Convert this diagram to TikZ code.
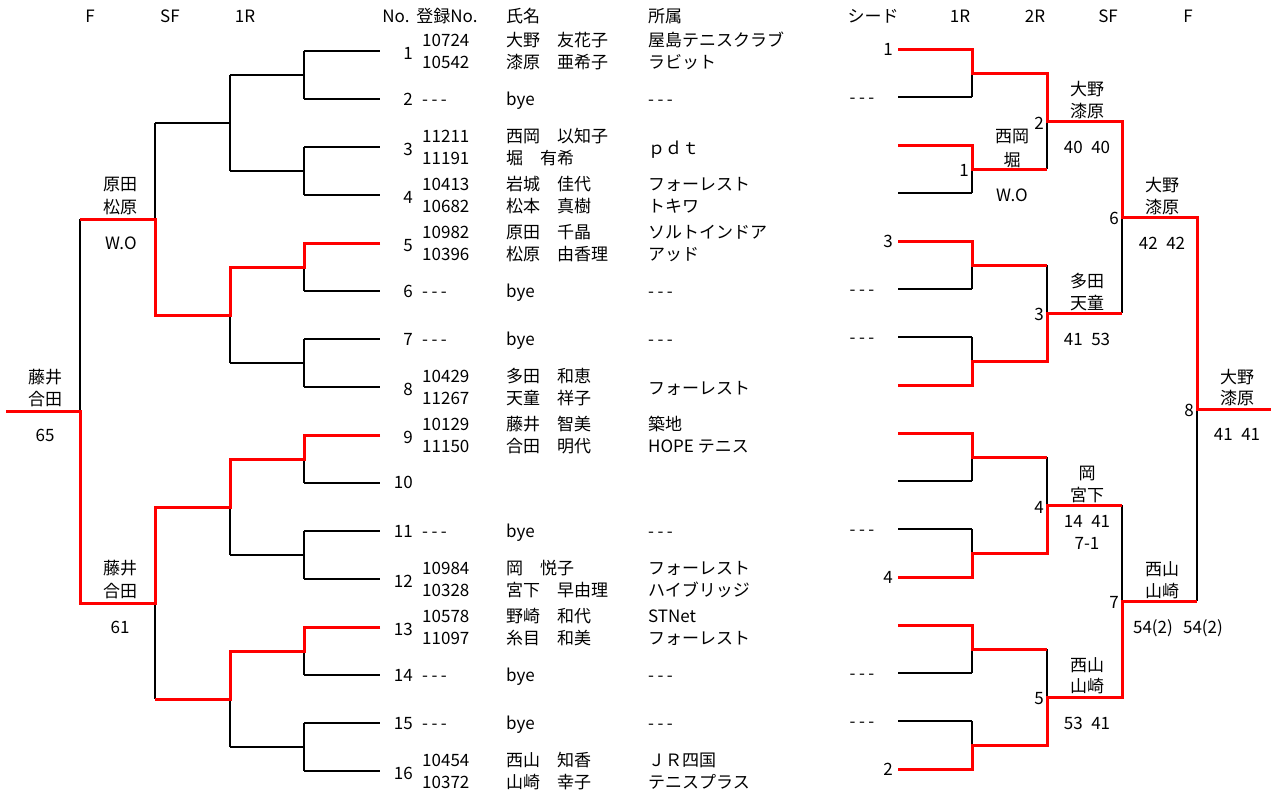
\documentclass[tikz,border=0pt]{standalone}
\usepackage{fontspec}
\setmainfont{Noto Sans CJK JP}
\newcommand\dsh{-\kern3.5pt-\kern3.5pt-}
\newcommand\slotpair[7]{%
  \pgfmathsetmacro\yy{51+48*(#1-1)}%
  \node[txt,anchor=east] (no#1) at (413,\yy+2) {#1};
  \node[txt,anchor=west] (ra#1) at (422,\yy-11) {#2};
  \node[txt,anchor=west] (rb#1) at (422,\yy+11) {#3};
  \node[txt,anchor=west] (na#1) at (506,\yy-11) {#4};
  \node[txt,anchor=west] (nb#1) at (506,\yy+11) {#5};
  \node[txt,anchor=west] (aa#1) at (648,\yy-11) {#6};
  \node[txt,anchor=west] (ab#1) at (648,\yy+11) {#7};
}
\newcommand\slotpairc[6]{%
  \pgfmathsetmacro\yy{51+48*(#1-1)}%
  \node[txt,anchor=east] (no#1) at (413,\yy+2) {#1};
  \node[txt,anchor=west] (ra#1) at (422,\yy-11) {#2};
  \node[txt,anchor=west] (rb#1) at (422,\yy+11) {#3};
  \node[txt,anchor=west] (na#1) at (506,\yy-11) {#4};
  \node[txt,anchor=west] (nb#1) at (506,\yy+11) {#5};
  \node[txt,anchor=west] (aa#1) at (648,\yy+1) {#6};
}
\newcommand\slotbye[1]{%
  \pgfmathsetmacro\yy{51+48*(#1-1)}%
  \node[txt,anchor=east] (no#1) at (413,\yy) {#1};
  \node[txt,anchor=west] (ra#1) at (422,\yy) {\dsh};
  \node[txt,anchor=west] (na#1) at (506,\yy) {bye};
  \node[txt,anchor=west] (aa#1) at (648,\yy) {\dsh};
}
\begin{document}
\begin{tikzpicture}[x=1pt,y=-1pt,
  blk/.style={black,line width=2pt},
  rd/.style={red,line width=3pt,line join=miter},
  txt/.style={inner sep=0pt,font=\fontsize{17}{20}\selectfont,text height=14pt,text depth=2pt}]
\useasboundingbox[fill=white] (0,0) rectangle (1271,798);

% ---------- coordinates ----------
\foreach \i in {1,...,16} {
  \pgfmathsetmacro\y{51+48*(\i-1)}
  \pgfmathsetmacro\yr{\y-2}
  \coordinate (LS\i) at (380,\y);
  \coordinate (LT\i) at (304,\y);
  \coordinate (RS\i) at (898,\yr);
  \coordinate (RT\i) at (972,\yr);
}
\foreach \k in {1,...,8} {
  \pgfmathsetmacro\y{75+96*(\k-1)}
  \pgfmathsetmacro\yr{\y-2}
  \coordinate (LA\k) at (304,\y);
  \coordinate (LB\k) at (230,\y);
  \coordinate (RA\k) at (972,\yr);
  \coordinate (RB\k) at (1047,\yr);
}
\foreach \m in {1,...,4} {
  \pgfmathsetmacro\y{123+192*(\m-1)}
  \pgfmathsetmacro\yr{\y-2}
  \coordinate (LC\m) at (230,\y);
  \coordinate (LD\m) at (155,\y);
  \coordinate (RC\m) at (1047,\yr);
  \coordinate (RD\m) at (1122,\yr);
}
\foreach \n in {1,2} {
  \pgfmathsetmacro\y{219+384*(\n-1)}
  \pgfmathsetmacro\yr{\y-2}
  \coordinate (LE\n) at (155,\y);
  \coordinate (LF\n) at (80,\y);
  \coordinate (RE\n) at (1122,\yr);
  \coordinate (RF\n) at (1197,\yr);
}
\coordinate (LG) at (80,411);
\coordinate (LH) at (6,411);
\coordinate (RG) at (1197,409);
\coordinate (RH) at (1271,409);

% ---------- left bracket, black ----------
\foreach \i in {1,2,3,4,6,7,8,10,11,12,14,15,16} \draw[blk] (LT\i) -- (LS\i);
\draw[blk] (LT1) -- (LT2);
\draw[blk] (LT3) -- (LT4);
\draw[blk] (LA3) -- (LT6);
\draw[blk] (LT7) -- (LT8);
\draw[blk] (LA5) -- (LT10);
\draw[blk] (LT11) -- (LT12);
\draw[blk] (LA7) -- (LT14);
\draw[blk] (LT15) -- (LT16);
\foreach \k in {1,2,4,6,8} \draw[blk] (LA\k) -- (LB\k);
\draw[blk] (LB1) -- (LB2);
\draw[blk] (LC2) -- (LB4);
\draw[blk] (LC3) -- (LB6);
\draw[blk] (LC4) -- (LB8);
\draw[blk] (LC1) -- (LD1);
\draw[blk] (LD1) -- (LE1);
\draw[blk] (LE2) -- (LD4);
\draw[blk] (LF1) -- (LG);

% ---------- left bracket, red ----------
\draw[rd] (LS5) -- (LT5) -- (LA3) -- (LB3) -- (LC2) -- (LD2) -- (LE1) -- (LF1);
\draw[rd] (LS9) -- (LT9) -- (LA5) -- (LB5) -- (LC3) -- (LD3) -- (LE2) -- (LF2) -- (LG) -- (LH);
\draw[rd] (LS13) -- (LT13) -- (LA7) -- (LB7) -- (LC4) -- (LD4);

% ---------- right bracket, black ----------
\foreach \i in {2,4,6,7,10,11,14,15} \draw[blk] (RS\i) -- (RT\i);
\draw[blk] (RA1) -- (RT2);
\draw[blk] (RA2) -- (RT4);
\draw[blk] (RA3) -- (RT6);
\draw[blk] (RT7) -- (RA4);
\draw[blk] (RA5) -- (RT10);
\draw[blk] (RT11) -- (RA6);
\draw[blk] (RA7) -- (RT14);
\draw[blk] (RT15) -- (RA8);
\draw[blk] (RC1) -- (RB2);
\draw[blk] (RB3) -- (RC2);
\draw[blk] (RB5) -- (RC3);
\draw[blk] (RB7) -- (RC4);
\draw[blk] (RE1) -- (RD2);
\draw[blk] (RD3) -- (RE2);
\draw[blk] (RG) -- (RF2);

% ---------- right bracket, red ----------
\draw[rd] (RS1) -- (RT1) -- (RA1) -- (RB1) -- (RC1) -- (RD1) -- (RE1) -- (RF1) -- (RG) -- (RH);
\draw[rd] (RS3) -- (RT3) -- (RA2) -- (RB2);
\draw[rd] (RS5) -- (RT5) -- (RA3) -- (RB3);
\draw[rd] (RS8) -- (RT8) -- (RA4) -- (RB4) -- (RC2) -- (RD2);
\draw[rd] (RS9) -- (RT9) -- (RA5) -- (RB5);
\draw[rd] (RS12) -- (RT12) -- (RA6) -- (RB6) -- (RC3) -- (RD3);
\draw[rd] (RS13) -- (RT13) -- (RA7) -- (RB7);
\draw[rd] (RS16) -- (RT16) -- (RA8) -- (RB8) -- (RC4) -- (RD4) -- (RE2) -- (RF2);

% ---------- headers ----------
\node[txt] (hF) at (90,16) {F};
\node[txt] (hSF) at (170,16) {SF};
\node[txt] (h1R) at (245,16) {1R};
\node[txt] (hNo) at (396,16) {No.};
\node[txt] (hReg) at (447,16) {登録No.};
\node[txt,anchor=west] (hName) at (506,16) {氏名};
\node[txt,anchor=west] (hAff) at (648,16) {所属};
\node[txt] (hSeed) at (873,16) {シード};
\node[txt] (hR1R) at (960,16) {1R};
\node[txt] (hR2R) at (1035,16) {2R};
\node[txt] (hRSF) at (1108,16) {SF};
\node[txt] (hRF) at (1188,16) {F};

% ---------- entries ----------
\slotpair{1}{10724}{10542}{大野　友花子}{漆原　亜希子}{屋島テニスクラブ}{ラビット}
\slotbye{2}
\slotpairc{3}{11211}{11191}{西岡　以知子}{堀　有希}{ｐｄｔ}
\slotpair{4}{10413}{10682}{岩城　佳代}{松本　真樹}{フォーレスト}{トキワ}
\slotpair{5}{10982}{10396}{原田　千晶}{松原　由香理}{ソルトインドア}{アッド}
\slotbye{6}
\slotbye{7}
\slotpairc{8}{10429}{11267}{多田　和恵}{天童　祥子}{フォーレスト}
\slotpair{9}{10129}{11150}{藤井　智美}{合田　明代}{築地}{HOPE テニス}
\node[txt,anchor=east] (no10) at (413,482) {10};
\slotbye{11}
\slotpair{12}{10984}{10328}{岡　悦子}{宮下　早由理}{フォーレスト}{ハイブリッジ}
\slotpair{13}{10578}{11097}{野崎　和代}{糸目　和美}{STNet}{フォーレスト}
\slotbye{14}
\slotbye{15}
\slotpair{16}{10454}{10372}{西山　知香}{山崎　幸子}{ＪＲ四国}{テニスプラス}

% ---------- left results ----------
\node[txt] (lsf1a) at (120,184) {原田};
\node[txt] (lsf1b) at (120,207) {松原};
\node[txt] (lsf1s) at (121,243) {W.O};
\node[txt] (lfa) at (45,377) {藤井};
\node[txt] (lfb) at (45,399) {合田};
\node[txt] (lfs) at (45,435) {65};
\node[txt] (lsf2a) at (120,568) {藤井};
\node[txt] (lsf2b) at (120,591) {合田};
\node[txt] (lsf2s) at (120,627) {61};

% ---------- right seeds ----------
\node[txt,anchor=east] (sd1) at (893,49) {1};
\node[txt] (sd2) at (862,97) {\dsh};
\node[txt,anchor=east] (sd5) at (893,241) {3};
\node[txt] (sd6) at (862,289) {\dsh};
\node[txt] (sd7) at (862,337) {\dsh};
\node[txt] (sd11) at (862,529) {\dsh};
\node[txt,anchor=east] (sd12) at (893,577) {4};
\node[txt] (sd14) at (862,673) {\dsh};
\node[txt] (sd15) at (862,721) {\dsh};
\node[txt,anchor=east] (sd16) at (893,769) {2};

% ---------- right match numbers ----------
\node[txt,anchor=east] (m1) at (969,170) {1};
\node[txt,anchor=east] (m2) at (1044,123) {2};
\node[txt,anchor=east] (m3) at (1044,314) {3};
\node[txt,anchor=east] (m4) at (1044,507) {4};
\node[txt,anchor=east] (m5) at (1044,698) {5};
\node[txt,anchor=east] (m6) at (1119,218) {6};
\node[txt,anchor=east] (m7) at (1119,602) {7};
\node[txt,anchor=east] (m8) at (1194,410) {8};

% ---------- right results ----------
\node[txt] (r1a) at (1012,136) {西岡};
\node[txt] (r1b) at (1012,160) {堀};
\node[txt] (r1s) at (1012,195) {W.O};
\node[txt] (r2a) at (1087,89) {大野};
\node[txt] (r2b) at (1087,111) {漆原};
\node[txt] (r2s) at (1087,147) {40\hspace{0.5em}40};
\node[txt] (r6a) at (1162,185) {大野};
\node[txt] (r6b) at (1162,207) {漆原};
\node[txt] (r6s) at (1162,243) {42\hspace{0.5em}42};
\node[txt] (r3a) at (1087,281) {多田};
\node[txt] (r3b) at (1087,303) {天童};
\node[txt] (r3s) at (1087,339) {41\hspace{0.5em}53};
\node[txt] (r8a) at (1237,377) {大野};
\node[txt] (r8b) at (1237,398) {漆原};
\node[txt] (r8s) at (1237,434) {41\hspace{0.5em}41};
\node[txt] (r4a) at (1087,473) {岡};
\node[txt] (r4b) at (1087,495) {宮下};
\node[txt] (r4s) at (1087,521) {14\hspace{0.5em}41};
\node[txt] (r4t) at (1087,543) {7-1};
\node[txt] (r7a) at (1162,569) {西山};
\node[txt] (r7b) at (1162,591) {山崎};
\node[txt] (r7s) at (1178,627) {54(2)\hspace{0.6em}54(2)};
\node[txt] (r5a) at (1087,665) {西山};
\node[txt] (r5b) at (1087,686) {山崎};
\node[txt] (r5s) at (1087,723) {53\hspace{0.5em}41};
\end{tikzpicture}
\end{document}
